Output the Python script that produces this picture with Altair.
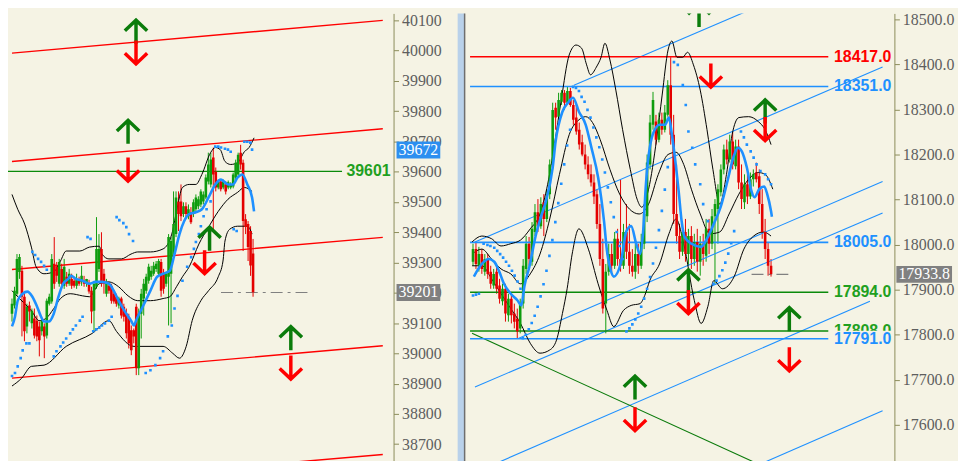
import altair as alt
import pandas as pd

BG = "#F5F3E4"
GREEN = "#0E9C0E"
GREEN_DARK = "#0B7C0B"
RED = "#FF0000"
CANDLE_RED = "#E40000"
BLUE = "#1E90FF"
AXIS_COL = "#8C8C5A"
LABEL_COL = "#5E5E5E"

# ---------------- LEFT PANEL (bar number vs index points) ----------------
L_OHLC = [
    (39131, 39181, 39105, 39164), (39158, 39220, 39148, 39207), (39197, 39328, 39190, 39312), (39269, 39328, 39246, 39318),
    (39273, 39289, 39056, 39187), (39187, 39197, 39040, 39073), (39089, 39164, 39066, 39154), (39158, 39171, 39105, 39138),
    (39099, 39148, 39082, 39141), (39115, 39148, 39049, 39059), (39108, 39125, 39040, 39056), (39089, 39105, 38990, 39043),
    (39073, 39115, 39059, 39108), (39089, 39099, 38984, 39056), (39059, 39181, 39049, 39174), (39164, 39197, 39158, 39187),
    (39171, 39328, 39164, 39312), (39296, 39384, 39213, 39230), (39286, 39302, 39236, 39256), (39230, 39312, 39220, 39302),
    (39279, 39296, 39220, 39230), (39223, 39312, 39213, 39286), (39253, 39269, 39220, 39230), (39230, 39279, 39223, 39263),
    (39246, 39263, 39213, 39223), (39240, 39253, 39217, 39223), (39223, 39263, 39213, 39246), (39240, 39253, 39223, 39230),
    (39236, 39289, 39223, 39256), (39240, 39256, 39220, 39230), (39230, 39246, 39220, 39246), (39230, 39243, 39197, 39204),
    (39207, 39220, 39099, 39138), (39141, 39236, 39073, 39230), (39220, 39450, 39213, 39345), (39279, 39394, 39269, 39345),
    (39345, 39400, 39220, 39230), (39263, 39279, 39197, 39230), (39197, 39246, 39187, 39236), (39223, 39236, 39197, 39207),
    (39223, 39230, 39164, 39174), (39197, 39207, 39164, 39171), (39187, 39197, 39154, 39164), (39158, 39187, 39148, 39181),
    (39181, 39187, 39115, 39125), (39154, 39164, 39105, 39121), (39131, 39148, 39049, 39066), (39121, 39131, 39016, 39033),
    (39076, 39092, 38994, 39010), (39076, 39082, 39033, 39056), (39154, 39164, 38928, 38951), (38951, 39148, 38928, 39131),
    (39131, 39213, 39049, 39197), (39181, 39246, 39125, 39230), (39207, 39263, 39197, 39253), (39240, 39296, 39230, 39286),
    (39253, 39289, 39243, 39273), (39263, 39302, 39256, 39289), (39279, 39305, 39269, 39296), (39263, 39312, 39256, 39305),
    (39302, 39312, 39187, 39207), (39263, 39279, 39197, 39213), (39230, 39269, 39220, 39263), (39253, 39394, 39092, 39384),
    (39263, 39384, 39099, 39371), (39318, 39535, 39308, 39427), (39394, 39535, 39384, 39515), (39502, 39535, 39404, 39460),
    (39502, 39558, 39437, 39453), (39460, 39499, 39450, 39486), (39486, 39499, 39450, 39460), (39453, 39492, 39443, 39476),
    (39466, 39483, 39427, 39433), (39460, 39509, 39450, 39499), (39476, 39525, 39466, 39515), (39486, 39519, 39476, 39509),
    (39492, 39542, 39483, 39535), (39502, 39535, 39492, 39525), (39515, 39591, 39509, 39581), (39568, 39663, 39558, 39624),
    (39558, 39663, 39548, 39640), (39647, 39680, 39404, 39591), (39601, 39614, 39535, 39548), (39548, 39574, 39542, 39568),
    (39568, 39574, 39535, 39542), (39548, 39574, 39542, 39568), (39558, 39568, 39525, 39535), (39548, 39571, 39542, 39565),
    (39548, 39565, 39542, 39558), (39551, 39597, 39545, 39591), (39581, 39640, 39574, 39630), (39591, 39663, 39584, 39656),
    (39663, 39689, 39607, 39624), (39630, 39640, 39338, 39437), (39443, 39460, 39394, 39417), (39427, 39437, 39305, 39351),
    (39404, 39420, 39256, 39290), (39330, 39378, 39187, 39201),
]
L_MA_X = [0, 1.2, 2.3, 4.3, 6.2, 8.2, 10.1, 11.7, 12.9, 14.8, 16.8, 18.7, 20.6, 22.6, 23.8, 25.7, 28.4, 31.2, 33.5, 36.2,
          39, 40.9, 42.9, 45.2, 47.9, 49.1, 49.9, 52.6, 55.7, 58.4, 60.8, 63.5, 65.4, 67.4, 69.3, 71.3, 74, 76.4, 79.1, 81.8,
          84.1, 87, 88.9, 90.8, 92.7, 94.7, 96.6, 97.4]
L_MA_Y = [39089, 39121, 39174, 39197, 39204, 39187, 39154, 39121, 39105, 39105, 39131, 39187, 39230, 39246, 39256, 39246,
          39240, 39230, 39236, 39236, 39230, 39207, 39174, 39141, 39108, 39092, 39108, 39154, 39207, 39253, 39263, 39273,
          39328, 39394, 39437, 39460, 39466, 39476, 39515, 39558, 39574, 39558, 39558, 39581, 39591, 39558, 39515, 39469]
L_UPPER_X = [0, 2.3, 5.1, 7.8, 9.7, 12.9, 16.8, 19.5, 21.8, 27.3, 31.2, 35.1, 36.2, 39, 44, 47.9, 50.6, 55.7, 60.8, 64.3,
             66.2, 68.6, 71.3, 74, 76.4, 79.9, 81.8, 83.8, 85.7, 88, 90.8, 93.5, 95.4, 97.4]
L_UPPER_Y = [39525, 39476, 39427, 39351, 39286, 39263, 39269, 39305, 39338, 39338, 39351, 39354, 39328, 39312, 39312,
             39328, 39335, 39335, 39345, 39394, 39469, 39548, 39558, 39558, 39591, 39663, 39680, 39673, 39634, 39624,
             39630, 39666, 39680, 39712]
L_MID_X = [0, 2.3, 5.1, 7.8, 10.9, 13.6, 16.8, 19.5, 23.4, 28.4, 31.2, 35.1, 39, 42.9, 46.7, 50.6, 55.7, 60.8, 63.5, 66.2,
           68.6, 71.3, 75.2, 79.1, 83, 86.9, 90.8, 93.5, 96.6]
L_MID_Y = [39207, 39187, 39164, 39141, 39108, 39115, 39148, 39181, 39197, 39190, 39187, 39230, 39236, 39220, 39190,
           39174, 39174, 39181, 39187, 39220, 39253, 39286, 39361, 39417, 39469, 39509, 39532, 39548, 39535]
L_LOWER_X = [0, 3.9, 7.8, 12.9, 21.8, 32.3, 39, 42.1, 49.1, 60.8, 64.7, 67.4, 70.1, 72.5, 76, 79.1, 83, 84.9, 85.7, 87.6,
             90.8, 94.7, 96.6]
L_LOWER_Y = [38892, 38918, 38957, 38961, 39023, 39066, 39108, 39072, 39023, 39023, 39000, 38984, 39023, 39108, 39174,
             39207, 39253, 39305, 39371, 39410, 39420, 39420, 39394]
L_SAR_X = [0, 1.2, 2.3, 3.5, 4.3, 5.8, 7, 8.2, 9.3, 10.5, 11.7, 12.9, 14, 16.8, 17.9, 19.5, 20.6, 21.8, 23.4, 24.5, 25.7,
           27.3, 28.4, 30.4, 31.6, 32.7, 33.9, 35.1, 36.2, 37.4, 39, 40.1, 42.1, 43.2, 44.8, 46, 47.1, 48.7, 53.8, 55.7,
           57.7, 59.6, 60.8, 62.7, 64.3, 65.4, 66.6, 68.6, 70.5, 72.1, 73.2, 74, 75.2, 76, 77.1, 78.3, 79.9, 81.8, 83, 84.1,
           85.7, 86.9, 88, 89.2, 90.4, 93.5, 94.7, 95.9, 96.6]
L_SAR_Y = [38925, 38935, 38957, 38984, 39010, 39033, 39033, 39335, 39325, 39312, 39302, 39289, 39276, 38990, 39007, 39023,
           39036, 39049, 39066, 39079, 39092, 39108, 39121, 39384, 39378, 39073, 39079, 39085, 39092, 39099, 39108, 39121,
           39450, 39440, 39430, 39417, 39394, 39371, 38935, 38944, 38961, 38984, 39007, 39056, 39092, 39148, 39190, 39240,
           39286, 39318, 39345, 39368, 39394, 39420, 39453, 39476, 39502, 39683, 39683, 39680, 39676, 39673, 39666, 39410,
           39404, 39699, 39699, 39696, 39673]
L_TREND_X0 = [0, 0, 0, 0, 0]
L_TREND_X1 = [149.2, 149.2, 149.2, 149.2, 149.2]
L_TREND_Y0 = [39992, 39634, 39277, 38918, 38560]
L_TREND_Y1 = [40100, 39742, 39383, 39025, 38666]
L_LEVEL = [39601]
L_LEVEL_X = [-2, 132.8]
L_UP_X = [49.9, 46.7, 79.5, 112.2]
L_UP_Y = [40062, 39731, 39378, 39049]
L_DOWN_X = [49.9, 46.7, 77.5, 112.2]
L_DOWN_Y = [39995, 39608, 39302, 38954]
L_LAST = [39201]
L_LAST_X = [84.1, 119.2]
L_TAG = [39672]
L_TICKS = list(range(38700, 40101, 100))

# ---------------- RIGHT PANEL ----------------
R_OHLC = [
    (17962, 18002, 17953, 17990), (17990, 18006, 17946, 17957), (17953, 17995, 17940, 17979), (17979, 17990, 17935, 17946),
    (17940, 17979, 17931, 17968), (17968, 17979, 17924, 17935), (17940, 17953, 17902, 17913), (17909, 17946, 17902, 17935),
    (17940, 17953, 17891, 17902), (17909, 17924, 17869, 17880), (17874, 17913, 17865, 17902), (17902, 17913, 17829, 17847),
    (17843, 17891, 17829, 17880), (17880, 17895, 17825, 17843), (17847, 17869, 17814, 17829), (17836, 17858, 17792, 17807),
    (17814, 17880, 17803, 17869), (17869, 17968, 17858, 17953), (17946, 18019, 17935, 18002), (18002, 18017, 17953, 17968),
    (17962, 18050, 17953, 18035), (18028, 18090, 18019, 18072), (18072, 18101, 18028, 18041), (18041, 18105, 18035, 18090),
    (18094, 18112, 18019, 18057), (18057, 18123, 18050, 18107), (18112, 18189, 18101, 18178), (18178, 18315, 18167, 18299),
    (18304, 18315, 18255, 18282), (18284, 18337, 18277, 18321), (18317, 18343, 18310, 18337), (18337, 18343, 18299, 18315),
    (18315, 18350, 18310, 18341), (18341, 18348, 18306, 18310), (18310, 18321, 18266, 18277), (18282, 18310, 18244, 18251),
    (18255, 18271, 18211, 18222), (18227, 18244, 18196, 18200), (18200, 18222, 18167, 18178), (18178, 18196, 18145, 18156),
    (18156, 18178, 18129, 18138), (18138, 18156, 18090, 18107), (18112, 18123, 18035, 18046), (18046, 18090, 17953, 17968),
    (17968, 18013, 17847, 17858), (17869, 17957, 17803, 17940), (17940, 18002, 17931, 17979), (17979, 18002, 17940, 17953),
    (17953, 18028, 17946, 18013), (18013, 18035, 17953, 17968), (17968, 18145, 17940, 17953), (17953, 18046, 17946, 18028),
    (18028, 18090, 17968, 17984), (17984, 18046, 17935, 17953), (17953, 17990, 17929, 17940), (17940, 18002, 17924, 17979),
    (17979, 18002, 17935, 17953), (17953, 18024, 17946, 18006), (18002, 18079, 17990, 18068), (18063, 18200, 18050, 18182),
    (18178, 18288, 18167, 18271), (18266, 18339, 18255, 18321), (18273, 18288, 18222, 18233), (18233, 18293, 18227, 18277),
    (18277, 18293, 18244, 18255), (18255, 18310, 18249, 18293), (18288, 18365, 18284, 18354), (18354, 18416, 18222, 18244),
    (18244, 18288, 18046, 18068), (18068, 18178, 18002, 18019), (18019, 18046, 17968, 17984), (17984, 18046, 17975, 18028),
    (18028, 18057, 17962, 17979), (17979, 18035, 17953, 18019), (18019, 18041, 17946, 17968), (17968, 18024, 17953, 18006),
    (18006, 18035, 17940, 17962), (17962, 18019, 17931, 18002), (18002, 18024, 17953, 17979), (17975, 18057, 17962, 18035),
    (18035, 18057, 17979, 18002), (18002, 18079, 17990, 18063), (18063, 18101, 17913, 18090), (18079, 18134, 18002, 18123),
    (18116, 18178, 18107, 18167), (18167, 18222, 18156, 18211), (18211, 18233, 18178, 18189), (18189, 18244, 18182, 18229),
    (18229, 18251, 18167, 18178), (18174, 18233, 18167, 18218), (18218, 18233, 18123, 18138), (18138, 18178, 18079, 18101),
    (18094, 18156, 18079, 18134), (18134, 18156, 18090, 18107), (18107, 18160, 18101, 18145), (18145, 18167, 18129, 18156),
    (18160, 18182, 18138, 18145), (18152, 18167, 18068, 18090), (18090, 18123, 18013, 18028), (18028, 18057, 17968, 17990),
    (17990, 18006, 17931, 17953), (17953, 17968, 17929, 17934),
]
R_MA_X = [0.3, 3, 5.3, 7.2, 8.9, 10.5, 12.8, 15.1, 16.4, 17.4, 19.1, 21.4, 23, 24.7, 27, 28, 30.3, 32.2, 33.9, 35.9,
          38.2, 40.1, 42.4, 44.4, 45.4, 46.7, 47.7, 50, 52, 53.6, 55.3, 56.6, 57.6, 58.6, 60.9, 63.2, 65.1, 66.4, 67.4,
          69.7, 70.7, 71.7, 74, 77.3, 79.6, 81.6, 83.9, 86.2, 88.2, 89.8, 91.1, 92.8, 94.4, 95.4, 97, 98.7, 99.7, 101, 101.3]
R_MA_Y = [17929, 17957, 17968, 17962, 17940, 17913, 17891, 17876, 17865, 17907, 17951, 18024, 18061, 18096, 18171, 18229,
          18295, 18315, 18326, 18295, 18266, 18216, 18149, 18052, 17986, 17942, 17929, 17957, 18030, 18041, 18002, 17979,
          18024, 18134, 18244, 18266, 18266, 18282, 18244, 18118, 18052, 18017, 18002, 17995, 18017, 18046, 18083, 18140,
          18193, 18215, 18207, 18171, 18118, 18105, 18123, 18129, 18112, 18074, 18062]
R_UPPER_X = [-0.3, 3, 6.3, 9.5, 12.8, 16.1, 19.4, 22.7, 25.3, 27.6, 29.9, 32.6, 34.9, 36.8, 38.5, 39.8, 41.8, 43.4, 44.7,
             46.4, 48.4, 50.7, 53.3, 55.6, 57.2, 59.5, 62.2, 64.1, 66.1, 67.4, 69.1, 71.1, 72.7, 74.7, 77, 79.3, 81.3, 83.6,
             85.9, 87.8, 90.1, 93.4, 96.7, 99, 101]
R_UPPER_Y = [18006, 18019, 18013, 17997, 18002, 18010, 18035, 18068, 18134, 18222, 18321, 18421, 18443, 18436, 18399,
             18377, 18394, 18416, 18447, 18410, 18343, 18255, 18167, 18101, 18083, 18123, 18233, 18332, 18432, 18452,
             18416, 18416, 18427, 18399, 18343, 18255, 18167, 18090, 18156, 18244, 18282, 18284, 18273, 18255, 18222]
R_MID_X = [-0.3, 3, 6.3, 9.5, 12.8, 16.1, 19.4, 22.7, 26, 29.3, 32.6, 35.9, 38.2, 40.5, 43.1, 46.4, 49.7, 53, 56.3, 59.5,
           62.8, 66.1, 68.8, 71.4, 74, 77, 80.3, 83.6, 86.8, 90.1, 93.4, 96.7, 99, 101.6]
R_MID_Y = [17979, 17990, 17968, 17946, 17935, 17913, 17935, 17979, 18057, 18156, 18244, 18277, 18284, 18271, 18233, 18167,
           18112, 18079, 18068, 18090, 18156, 18200, 18205, 18178, 18123, 18068, 18024, 18028, 18068, 18112, 18145, 18160,
           18156, 18123]
R_LOWER_X = [-0.3, 3, 6.3, 9.5, 12.8, 16.1, 19.4, 22.7, 26, 28.3, 30.3, 31.9, 33.6, 35.9, 39.1, 42.4, 45.4, 47.7, 51,
             53.6, 56.6, 58.2, 59.9, 63.2, 66.4, 68.8, 71.4, 75, 77.3, 79.6, 81.6, 84.5, 88.5, 91.8, 95.1, 98.4, 101]
R_LOWER_Y = [17953, 17953, 17924, 17891, 17858, 17825, 17781, 17759, 17766, 17788, 17847, 17902, 17979, 18035, 17990,
             17913, 17854, 17818, 17854, 17865, 17869, 17887, 17920, 17957, 18024, 18057, 18002, 17876, 17825, 17863,
             17920, 17902, 17929, 17990, 18019, 18028, 18019]
R_SAR_X = [0, 1, 2, 3.6, 4.9, 5.9, 7.2, 8.2, 9.2, 10.2, 11.2, 12.2, 13.2, 14.1, 15.1, 16.1, 16.9, 17.9, 18.9, 19.9, 20.9,
           21.9, 22.9, 23.9, 24.9, 25.9, 26.9, 27.9, 28.9, 29.9, 30.9, 31.9, 32.9, 33.9, 34.9, 35.9, 36.8, 37.8, 38.8, 39.8,
           40.8, 41.8, 42.8, 43.8, 44.7, 45.7, 46.7, 47.7, 48.7, 49.7, 50.7, 52, 53, 54, 55, 56, 57, 58, 59, 60, 61, 62, 63,
           64, 65, 66, 68.1, 69.4, 71.1, 72.1, 73, 74.3, 75.3, 77, 78, 79.6, 81.5, 82.5, 83.5, 84.5, 85.5, 86.5, 87.5, 88.5,
           90.8, 91.8, 92.8, 94.1, 95.1, 96.1, 97.4, 99, 100, 101]
R_SAR_Y = [17887, 17889, 17891, 18002, 17999, 17997, 17993, 17986, 17979, 17971, 17962, 17953, 17942, 17931, 17918, 17902,
           17792, 17800, 17812, 17826, 17842, 17862, 17885, 17912, 17942, 17975, 18010, 18050, 18092, 18135, 18178, 18220,
           18255, 18350, 18348, 18341, 18328, 18317, 18299, 18282, 18260, 18238, 18216, 18189, 18160, 18127, 18094, 18061,
           18028, 17997, 17968, 17807, 17814, 17823, 17834, 17847, 17862, 17880, 17902, 17928, 17958, 17993, 18032, 18075,
           18122, 18172, 18405, 18399, 18354, 18310, 18251, 18215, 18178, 18134, 18090, 18052, 17913, 17920, 17930, 17943,
           17960, 17980, 18003, 18030, 18251, 18238, 18222, 18207, 18193, 18178, 18163, 18156, 18145, 18134]
R_TREND_X0 = [34.2, 0.66, 15.5, 0.66, 0.66, 98.4]
R_TREND_X1 = [97.4, 138.8, 138.8, 138.8, 134.5, 138.8]
R_TREND_Y0 = [18354, 18006, 17792, 17684, 17494, 17516]
R_TREND_Y1 = [18531, 18394, 18140, 18070, 17874, 17631]
R_DIAG_X = [-0.33, 95.7]
R_DIAG_Y = [17803, 17516]
R_LEVEL_RED = [18417]
R_LEVEL_BLUE = [18351, 18005, 17791]
R_LEVEL_GREEN = [17894, 17808]
R_LEVEL_X = [-1, 120.4]
R_UP_X = [76.6, 99, 73, 107.2, 54.9]
R_UP_Y = [18509, 18295, 17918, 17834, 17682]
R_DOWN_X = [80.6, 99, 73, 107.2, 54.9]
R_DOWN_Y = [18376, 18257, 17873, 17746, 17613]
R_LAST = [17933.8]
R_LAST_X = [94.4, 108.2]
R_TICKS = list(range(17600, 18501, 100))

# ---------------- geometry ----------------
L_W, R_W, H = 388, 432, 453
L_XDOM, L_YDOM = [0.39, 151.54], [38635.8, 40123.0]
R_XDOM, R_YDOM = [-0.99, 141.12], [17513.9, 18513.2]

UP = "M0,1L0,-0.92M-0.95,-0.1L0,-1L0.95,-0.1"
DOWN = "M0,-1L0,0.92M-0.95,0.1L0,1L0.95,0.1"


def box_shape(ratio):
    return f"M-1,-{ratio}L1,-{ratio}L1,{ratio}L-1,{ratio}Z"


def pts(xs, ys):
    return pd.DataFrame({"x": list(xs), "y": list(ys)})


def build_panel(ohlc, xdom, ydom, width, ticks, fmt, parts):
    xs = alt.Scale(domain=xdom, nice=False, zero=False)
    ys = alt.Scale(domain=ydom, nice=False, zero=False)

    def X(f):
        return alt.X(f, type="quantitative", scale=xs, axis=None)

    def Y(f, axis=None):
        if axis is None:
            return alt.Y(f, type="quantitative", scale=ys, axis=None)
        return alt.Y(f, type="quantitative", scale=ys, axis=axis)

    axis = alt.Axis(orient="right", values=ticks, format=fmt, grid=False, title="",
                    labelFont="Liberation Serif", labelFontSize=16, labelColor=LABEL_COL,
                    domainColor=AXIS_COL, tickColor=AXIS_COL, tickSize=5, labelPadding=3,
                    labelFlush=False, labelOverlap=False, minExtent=64, maxExtent=64)

    cdf = pd.DataFrame(ohlc, columns=["o", "h", "l", "c"])
    cdf["i"] = range(len(cdf))
    cdf["d"] = ["up" if c >= o else "dn" for o, c in zip(cdf["o"], cdf["c"])]
    ccol = alt.Color("d:N", scale=alt.Scale(domain=["up", "dn"], range=[GREEN, CANDLE_RED]), legend=None)

    layers = []
    # candle wicks carry the price axis
    layers.append(alt.Chart(cdf).mark_rule(strokeWidth=1, clip=True).encode(
        x=X("i"), y=Y("l", axis), y2="h:Q", color=ccol))

    for (x0, x1, y0, y1, color, sw) in parts["trends"]:
        tdf = pd.DataFrame({"x": x0, "x2": x1, "y": y0, "y2": y1})
        layers.append(alt.Chart(tdf).mark_rule(color=color, strokeWidth=sw, clip=True).encode(
            x=X("x"), x2="x2:Q", y=Y("y"), y2="y2:Q"))

    for (levels, lx, color, sw) in parts["levels"]:
        ldf = pd.DataFrame({"y": levels, "x": [lx[0]] * len(levels), "x2": [lx[1]] * len(levels)})
        layers.append(alt.Chart(ldf).mark_rule(color=color, strokeWidth=sw, clip=True).encode(
            x=X("x"), x2="x2:Q", y=Y("y")))

    for (bx, by) in parts["bands"]:
        layers.append(alt.Chart(pts(bx, by)).mark_line(color="black", strokeWidth=1, clip=True,
                                                       interpolate="monotone").encode(x=X("x"), y=Y("y")))

    last, lastx = parts["last"]
    layers.append(alt.Chart(pd.DataFrame({"y": last, "x": [lastx[0]], "x2": [lastx[1]]})).mark_rule(
        color="#808080", strokeWidth=1.2, strokeDash=[12, 5, 3, 5], clip=True).encode(
        x=X("x"), x2="x2:Q", y=Y("y")))

    layers.append(alt.Chart(cdf).mark_bar(size=2.6, clip=True).encode(
        x=X("i"), y=Y("o"), y2="c:Q", color=ccol))

    mx, my = parts["ma"]
    layers.append(alt.Chart(pts(mx, my)).mark_line(color=BLUE, strokeWidth=2.6, clip=True,
                                                   interpolate="monotone").encode(x=X("x"), y=Y("y")))
    sx, sy = parts["sar"]
    layers.append(alt.Chart(pts(sx, sy)).mark_square(color=BLUE, size=7, opacity=1, clip=True).encode(
        x=X("x"), y=Y("y")))

    ux, uy = parts["up"]
    layers.append(alt.Chart(pts(ux, uy)).mark_point(shape=UP, filled=False, size=560, strokeWidth=3.5,
                                                    color=GREEN_DARK, opacity=1, clip=True).encode(
        x=X("x"), y=Y("y")))
    dx, dy = parts["down"]
    layers.append(alt.Chart(pts(dx, dy)).mark_point(shape=DOWN, filled=False, size=560, strokeWidth=3.5,
                                                    color=RED, opacity=1, clip=True).encode(
        x=X("x"), y=Y("y")))

    for lab in parts["labels"]:
        kind = lab[0]
        if kind == "text":
            _, vals, tx, color, dec = lab
            tdf = pd.DataFrame({"y": vals, "t": [f"{v:.{dec}f}" for v in vals]})
            layers.append(alt.Chart(tdf).mark_text(font="Liberation Sans", fontWeight="bold", fontSize=16,
                                                   align="right", baseline="middle", color=color).encode(
                x=alt.value(tx), y=Y("y"), text="t:N"))
        elif kind == "cover":
            _, vals, cx, w, ratio = lab
            layers.append(alt.Chart(pd.DataFrame({"y": vals})).mark_point(
                shape=box_shape(ratio), filled=True, size=w * w, color=BG, opacity=1, strokeWidth=0).encode(
                x=alt.value(cx), y=Y("y")))
        elif kind == "tag":
            _, vals, cx, w, ratio, color, dec = lab
            tdf = pd.DataFrame({"y": vals, "t": [f"{v:.{dec}f}" for v in vals]})
            layers.append(alt.Chart(tdf).mark_point(
                shape=box_shape(ratio), filled=True, size=w * w, color=color, opacity=1, strokeWidth=0).encode(
                x=alt.value(cx), y=Y("y")))
            layers.append(alt.Chart(tdf).mark_text(font="Liberation Serif", fontSize=16, color="white",
                                                   align="center", baseline="middle").encode(
                x=alt.value(cx), y=Y("y"), text="t:N"))

    for (sxv, sw, color) in parts.get("separators", []):
        layers.append(alt.Chart(pd.DataFrame({"a": [0]})).mark_rule(color=color, strokeWidth=sw).encode(
            x=alt.value(sxv), y=alt.value(0), y2=alt.value(H)))

    return alt.layer(*layers).resolve_axis(y="independent").properties(width=width, height=H)


left = build_panel(L_OHLC, L_XDOM, L_YDOM, L_W, L_TICKS, "d", {
    "trends": [(L_TREND_X0, L_TREND_X1, L_TREND_Y0, L_TREND_Y1, RED, 1.4)],
    "levels": [(L_LEVEL, L_LEVEL_X, "#0A8A0A", 1.3)],
    "bands": [(L_UPPER_X, L_UPPER_Y), (L_MID_X, L_MID_Y), (L_LOWER_X, L_LOWER_Y)],
    "last": (L_LAST, L_LAST_X),
    "ma": (L_MA_X, L_MA_Y),
    "sar": (L_SAR_X, L_SAR_Y),
    "up": (L_UP_X, L_UP_Y),
    "down": (L_DOWN_X, L_DOWN_Y),
    "labels": [
        ("text", L_LEVEL, 385, "#1FA01F", 0),
        ("tag", L_TAG, 413, 44, 0.39, "#2C8FF0", 0),
        ("tag", L_LAST, 413, 44, 0.39, "#808080", 0),
    ],
})

right = build_panel(R_OHLC, R_XDOM, R_YDOM, R_W, R_TICKS, ".1f", {
    "trends": [(R_TREND_X0, R_TREND_X1, R_TREND_Y0, R_TREND_Y1, BLUE, 1.1),
               ([R_DIAG_X[0]], [R_DIAG_X[1]], [R_DIAG_Y[0]], [R_DIAG_Y[1]], "#0A7A0A", 1.1)],
    "levels": [(R_LEVEL_RED, R_LEVEL_X, RED, 1.5), (R_LEVEL_GREEN, R_LEVEL_X, "#0A8A0A", 1.5),
               (R_LEVEL_BLUE, R_LEVEL_X, BLUE, 1.6)],
    "bands": [(R_UPPER_X, R_UPPER_Y), (R_MID_X, R_MID_Y), (R_LOWER_X, R_LOWER_Y)],
    "last": (R_LAST, R_LAST_X),
    "ma": (R_MA_X, R_MA_Y),
    "sar": (R_SAR_X, R_SAR_Y),
    "up": (R_UP_X, R_UP_Y),
    "down": (R_DOWN_X, R_DOWN_Y),
    "labels": [
        ("text", R_LEVEL_RED, 429, RED, 1),
        ("text", R_LEVEL_GREEN, 429, "#1FA01F", 1),
        ("cover", [R_LEVEL_BLUE[2]], 399, 62, 0.26),
        ("text", R_LEVEL_BLUE, 429, BLUE, 1),
        ("tag", R_LAST, 462, 56, 0.3, "#808080", 1),
    ],
    "separators": [(-4, 7, "#B9D1EA"), (-0.5, 1.5, "#6E6E6E")],
})

chart = alt.hconcat(left, right, spacing=72, bounds="flush").properties(
    padding=0, background=BG).configure_view(strokeWidth=0)

chart.save("out.html", embed_options={"renderer": "svg", "actions": False})
